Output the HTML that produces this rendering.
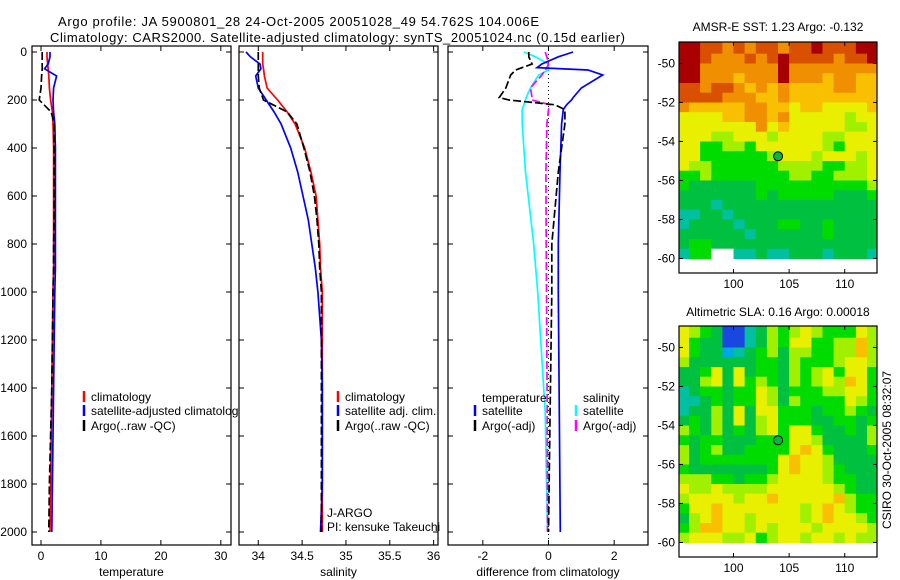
<!DOCTYPE html>
<html><head><meta charset="utf-8">
<style>
html,body{margin:0;padding:0;background:#fff;}
svg{display:block;font-family:"Liberation Sans",Arial,sans-serif;}
</style></head>
<body>
<svg id="fig" width="900" height="580" viewBox="0 0 900 580" xmlns="http://www.w3.org/2000/svg">
<text x="58" y="26" font-size="13" textLength="481">Argo profile: JA 5900801_28 24-Oct-2005 20051028_49 54.762S 104.006E</text>
<text x="50" y="42" font-size="13" textLength="575">Climatology: CARS2000. Satellite-adjusted climatology: synTS_20051024.nc (0.15d earlier)</text>
<g id="plots"></g>
<text x="778" y="31" font-size="12" text-anchor="middle">AMSR-E SST: 1.23 Argo: -0.132</text>
<text x="778" y="316" font-size="12" text-anchor="middle">Altimetric SLA: 0.16 Argo: 0.00018</text>
<text transform="translate(891,450) rotate(-90)" font-size="12" text-anchor="middle">CSIRO 30-Oct-2005 08:32:07</text>
</svg>
<script>
// ---- profile data ----
const depthsTS = [0,20,50,70,100,150,200,250,300,400,500,600,700,800,900,1000,1200,1400,1600,1800,2000];
const tempClim = [1.0,1.0,1.1,1.2,1.3,1.4,1.6,1.9,2.0,2.1,2.1,2.1,2.1,2.1,2.1,2.0,1.9,1.8,1.7,1.6,1.5];
const tempSat  = [1.5,1.5,1.2,0.6,2.6,2.1,2.0,2.1,2.3,2.4,2.4,2.4,2.4,2.4,2.4,2.3,2.2,2.1,2.0,1.9,1.8];
const tempArgo = [0.2,0.2,0.2,0.2,0.1,0.0,-0.3,1.7,2.2,2.2,2.2,2.2,2.2,2.1,2.1,2.0,1.9,1.8,1.6,1.4,1.3];
const salClim  = [34.05,34.05,34.05,34.06,34.07,34.1,34.22,34.33,34.42,34.53,34.6,34.66,34.68,34.7,34.71,34.73,34.73,34.73,34.73,34.73,34.73];
const salSat   = [33.86,33.91,34.02,34.03,33.97,34.0,34.09,34.18,34.26,34.37,34.45,34.51,34.57,34.61,34.65,34.68,34.72,34.73,34.73,34.73,34.71];
const salArgo  = [34.0,34.0,34.0,34.0,34.0,34.01,34.06,34.33,34.44,34.52,34.59,34.64,34.67,34.69,34.7,34.72,34.72,34.72,34.72,34.72,34.72];
const depthsD  = [0,20,50,65,75,96,150,190,200,220,240,300,500,800,1000,1500,2000];
const dTempSat = [0.75,0.3,-0.2,-0.35,1.2,1.65,1.0,0.75,0.7,0.55,0.45,0.4,0.35,0.3,0.3,0.33,0.36];
const dTempArgo= [-0.6,-0.6,-0.5,-0.8,-1.0,-1.15,-1.3,-1.5,-1.2,0.2,0.5,0.5,0.3,0.1,0.1,0.05,0.0];
const dSalSat  = [-0.75,-0.4,0.0,0.0,0.0,-0.3,-0.55,-0.68,-0.7,-0.75,-0.8,-0.8,-0.7,-0.45,-0.33,-0.1,-0.03];
const dSalArgo = [-0.1,-0.05,0.0,-0.05,-0.1,-0.2,-0.55,-0.5,-0.5,0.05,0.0,-0.05,-0.08,-0.07,-0.06,-0.04,-0.03];
const depthTicks = [0,200,400,600,800,1000,1200,1400,1600,1800,2000];
const tempTicks = [0,10,20,30];
const salTicks = [34,34.5,35,35.5,36];
const diffTicks = [-2,0,2];
// ---- map data (rows -49..-60 step 0.5, cols 95..113 step 1) ----
const sstRows = [
"998878788788988899","998777878988887889","997777777977777777","997776777977767766",
"887887676766667766","888877766766666666","766666776656655556","555566776755555455",
"555555575655555445","555445554555544555","553344355555543555","553333334555455545",
"544333333444433445","334333333344334445","322222233333333334","222222232333332223",
"222122222222222222","112212222222222222","122221222332232222","222222122222232222",
"233222222222222222","133xx1121122212221"];
const slaRows = [
"543200124345433354","532200124355334464","5322c1234244334464","422222233243334554",
"223525233243453553","224525343243454653","123323354233344553","112323354243333543",
"122425255333233432","232425245333223323","432423245355322324","323322233355422224",
"423422333356532223","423333333565542222","322222223565543222","444332334555543322",
"544544445555554322","455554556555556433","355655555554565433","245655455554565543",
"346655454555455554","455544534554554544"];
const mapPalette = {"0":"#1848e0","c":"#00a8e0","1":"#00c0a0","2":"#00c040","3":"#00dc00","4":"#a0f000","5":"#e8f000","6":"#f8c000","7":"#f09000","8":"#d85000","9":"#a80000","x":"#ffffff"};
const argoLon = 104.006, argoLat = -54.762;

const NS="http://www.w3.org/2000/svg";
const root=document.getElementById('plots');
function el(tag,attrs,parent){const e=document.createElementNS(NS,tag);for(const k in attrs)e.setAttribute(k,attrs[k]);(parent||root).appendChild(e);return e;}
const yTop=52, pxPerM=0.24, yBot=545, boxTop=46;
const yD = d => yTop + d*pxPerM;

function panel(name,x0,x1,xmin,xmax,ticks,fmt,xlabel,showY){
  const g=el('g',{});
  
  
  const sx=v=>x0+(v-xmin)/(xmax-xmin)*(x1-x0);
  const box=el('rect',{x:x0,y:boxTop,width:x1-x0,height:yBot-boxTop,fill:'#fff',stroke:'#000','stroke-width':1.2},g);
  
  
  ticks.forEach(t=>{
    const x=sx(t);
    el('line',{x1:x,x2:x,y1:yBot,y2:yBot-5,stroke:'#000'},g);
    el('line',{x1:x,x2:x,y1:boxTop,y2:boxTop+5,stroke:'#000'},g);
    const tl=el('text',{x:x,y:560,'font-size':12,'text-anchor':'middle'},g);
    tl.textContent=fmt(t);
    
    
  });
  depthTicks.forEach(d=>{
    const y=yD(d);
    el('line',{x1:x0,x2:x0+5,y1:y,y2:y,stroke:'#000'},g);
    el('line',{x1:x1,x2:x1-5,y1:y,y2:y,stroke:'#000'},g);
    if(showY){
      const t=el('text',{x:27,y:y+4,'font-size':12,'text-anchor':'end'},g);
      t.textContent=d;
      
      
    }
  });
  const xl=el('text',{x:(x0+x1)/2,y:576,'font-size':12,'text-anchor':'middle'},g);
  xl.textContent=xlabel;
  
  
  const clip='clip-'+name;
  const cp=el('clipPath',{id:clip},g);
  el('rect',{x:x0,y:boxTop,width:x1-x0,height:yBot-boxTop},cp);
  const cg=el('g',{'clip-path':'url(#'+clip+')'},g);
  return {sx,g,cg};
}
function series(p,name,depths,vals,color,dash,w){
  const pts=vals.map((v,i)=>p.sx(v).toFixed(1)+','+yD(depths[i]).toFixed(1)).join(' ');
  const pl=el('polyline',{points:pts,fill:'none',stroke:color,'stroke-width':w||1.7,'stroke-dasharray':dash||'none'},p.cg);
  
  
}
function legend(p,x,y,color,label,name){
  el('line',{x1:x,x2:x,y1:y-8,y2:y+3,stroke:color,'stroke-width':2.5},p.g);
  const t=el('text',{x:x+7,y:y+2,'font-size':12},p.g);
  t.textContent=label;
  
  
}
function text(p,x,y,s,name){
  const t=el('text',{x:x,y:y,'font-size':12},p.g);t.textContent=s;
  
  
}

const pT=panel('temperature',32,231,-1.5,31.7,tempTicks,v=>v,'temperature',true);
series(pT,'temp-climatology-line',depthsTS,tempClim,'#ff0000');
series(pT,'temp-satellite-line',depthsTS,tempSat,'#0000ff');
series(pT,'temp-argo-line',depthsTS,tempArgo,'#000000','8,3');
legend(pT,84,399,'#ff0000','climatology','legend-climatology');
legend(pT,84,413,'#0000ff','satellite-adjusted climatology','legend-satellite-adjusted');
legend(pT,84,428,'#000000','Argo(..raw -QC)','legend-argo');

const pS=panel('salinity',239,438,33.78,36.05,salTicks,v=>v,'salinity',false);
series(pS,'sal-climatology-line',depthsTS,salClim,'#ff0000');
series(pS,'sal-satellite-line',depthsTS,salSat,'#0000ff');
series(pS,'sal-argo-line',depthsTS,salArgo,'#000000','8,3');
legend(pS,338,399,'#ff0000','climatology','legend-sal-climatology');
legend(pS,338,413,'#0000ff','satellite adj. clim.','legend-sal-satellite');
legend(pS,338,428,'#000000','Argo(..raw -QC)','legend-sal-argo');
text(pS,327,517,'J-ARGO','institution-label');
text(pS,327,531,'PI: kensuke Takeuchi','pi-label');

const pD=panel('difference',448,648,-3.06,3.03,diffTicks,v=>v,'difference from climatology',false);
el('line',{x1:pD.sx(0),x2:pD.sx(0),y1:boxTop,y2:yBot,stroke:'#000','stroke-dasharray':'1,3'},pD.cg);
series(pD,'diff-sal-satellite-line',depthsD,dSalSat,'#00ffff');
series(pD,'diff-sal-argo-line',depthsD,dSalArgo,'#ff00ff','8,3');
series(pD,'diff-temp-satellite-line',depthsD,dTempSat,'#0000ff');
series(pD,'diff-temp-argo-line',depthsD,dTempArgo,'#000000','8,3');
text(pD,482,402,'temperature','legend-temperature-heading');
legend(pD,475,413,'#0000ff','satellite','legend-diff-temp-satellite');
legend(pD,475,428,'#000000','Argo(-adj)','legend-diff-temp-argo');
text(pD,583,402,'salinity','legend-salinity-heading');
legend(pD,576,413,'#00ffff','satellite','legend-diff-sal-satellite');
legend(pD,576,428,'#ff00ff','Argo(-adj)','legend-diff-sal-argo');

function map(name,rows,top,bottom){
  const x0=679,x1=877,lonMin=95.1,lonMax=112.9;
  const latTop=-48.9, pxDeg=19.5;
  const sx=v=>x0+(v-lonMin)/(lonMax-lonMin)*(x1-x0);
  const sy=lat=>top+(latTop-lat)*pxDeg;
  const g=el('g',{});
  
  
  el('rect',{x:x0,y:top,width:x1-x0,height:bottom-top,fill:'#fff'},g);
  const cp=el('clipPath',{id:'clip-'+name},g);
  el('rect',{x:x0,y:top,width:x1-x0,height:bottom-top},cp);
  const cg=el('g',{'clip-path':'url(#clip-'+name+')'},g);
  rows.forEach((row,r)=>{
    const latA=-49-r*0.5, latB=latA-0.5;
    const ya=r===0?top:sy(latA);
    [...row].forEach((ch,c)=>{
      const xa=c===0?x0:sx(95+c), xb=sx(96+c);
      const cell=el('rect',{x:xa.toFixed(1),y:ya.toFixed(1),width:(xb-xa+0.6).toFixed(1),height:(sy(latB)-ya+0.6).toFixed(1),fill:mapPalette[ch]},cg);
      
      
    });
  });
  el('rect',{x:x0,y:top,width:x1-x0,height:bottom-top,fill:'none',stroke:'#000','stroke-width':1.2},g);
  [-50,-52,-54,-56,-58,-60].forEach(l=>{
    const y=sy(l);
    el('line',{x1:x0,x2:x0+4,y1:y,y2:y,stroke:'#000'},g);
    el('line',{x1:x1,x2:x1-4,y1:y,y2:y,stroke:'#000'},g);
    const t=el('text',{x:x0-4,y:y+4,'font-size':12,'text-anchor':'end'},g);
    t.textContent=l;
    
    
  });
  [100,105,110].forEach(l=>{
    const x=sx(l);
    el('line',{x1:x,x2:x,y1:bottom,y2:bottom-4,stroke:'#000'},g);
    el('line',{x1:x,x2:x,y1:top,y2:top+4,stroke:'#000'},g);
    const t=el('text',{x:x,y:bottom+15,'font-size':12,'text-anchor':'middle'},g);
    t.textContent=l;
    
    
  });
  const m=el('circle',{cx:sx(argoLon),cy:sy(argoLat),r:4.5,fill:'#00b840',stroke:'#000','stroke-width':1},g);
  
  
}
map('sst-map',sstRows,42,273);
map('sla-map',slaRows,326,557);
</script>
</body></html>
